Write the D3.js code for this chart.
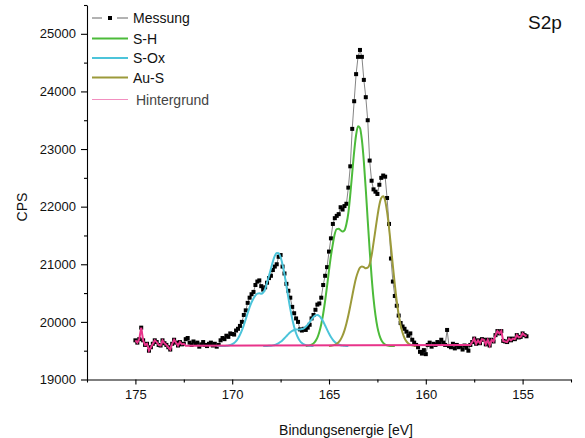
<!DOCTYPE html>
<html>
<head>
<meta charset="utf-8">
<script src="https://cdn.jsdelivr.net/npm/d3@7"></script>
<style>
  body { margin: 0; background: #fff; }
  svg { display: block; }
  text { font-family: "Liberation Sans", Arial, Helvetica, sans-serif; }
</style>
</head>
<body>
<svg id="chart" width="585" height="438"></svg>
<script>
// Energy grid step of every series (eV)
const step = 0.1;

// Messung, 175.0 eV down to 154.8 eV
const messungStart = 175.0;
const messung = [
  19680,19640,19700,19900,19680,19600,19620,19500,19560,19620, // 175.0
  19680,19650,19600,19590,19680,19630,19600,19560,19520,19620, // 174.0
  19690,19640,19590,19650,19610,19620,19700,19720,19640,19600, // 173.0
  19660,19620,19640,19570,19610,19650,19600,19580,19620,19640, // 172.0
  19590,19620,19570,19600,19680,19720,19700,19760,19740,19800, // 171.0
  19790,19780,19850,19880,19930,20000,20120,20200,20330,20420, // 170.0
  20480,20520,20640,20700,20720,20620,20560,20600,20680,20760, // 169.0
  20800,20900,20960,21000,21130,21160,20960,20840,20660,20540, // 168.0
  20420,20260,20150,20060,20000,19870,19850,19880,19860,19900, // 167.0
  19950,20060,20120,20210,20300,20320,20420,20640,20800,20950, // 166.0
  21220,21450,21700,21800,21840,21870,21990,21950,22010,22050, // 165.0
  22330,22700,23350,23830,24300,24600,24720,24600,24200,23900, // 164.0
  23500,22800,22450,22300,22260,22220,22380,22500,22540,22520, // 163.0
  22150,21700,21100,20700,20450,20280,20110,19980,19920,19880, // 162.0
  19830,19760,19800,19690,19640,19600,19560,19480,19450,19510, // 161.0
  19440,19600,19640,19570,19620,19600,19650,19630,19690,19640, // 160.0
  19600,19860,19580,19560,19620,19540,19600,19560,19580,19520, // 159.0
  19590,19550,19500,19600,19650,19710,19620,19680,19630,19700, // 158.0
  19690,19610,19690,19590,19690,19660,19770,19840,19800,19840, // 157.0
  19670,19660,19650,19710,19680,19710,19700,19770,19730,19740, // 156.0
  19800,19770,19750                                            // 155.0
];

// S-H component, 166.2 eV down to 161.6 eV
const shStart = 166.2;
const sh = [
  19582,19585,19592,19604,19627,19667,19727,19824,19958,20141,
  20367,20622,20892,21145,21355,21530,21610,21615,21590,21570,
  21590,21700,21893,22213,22587,22956,23244,23394,23366,23153,
  22782,22297,21765,21247,20786,20404,20117,19909,19772,19686,
  19635,19607,19593,19586,19582,19581,19580
];

// S-Ox components: main doublet 170.8 → 165.8 eV, minor doublet 168.4 → 164.0 eV
const sOxAStart = 170.8;
const sOxA = [
  19580,19580,19581,19581,19583,19585,19590,19598,19612,19634,
  19667,19713,19775,19853,19945,20048,20153,20254,20341,20407,
  20460,20490,20495,20490,20510,20570,20684,20797,20924,21046,
  21145,21197,21191,21121,20995,20824,20625,20421,20225,20054,
  19913,19803,19724,19668,19632,19609,19596,19588,19584,19582,
  19581
];
const sOxBStart = 168.4;
const sOxB = [
  19580,19581,19582,19584,19587,19592,19600,19613,19630,19654,
  19683,19716,19752,19788,19819,19844,19860,19868,19870,19870,
  19875,19888,19914,19951,19996,20044,20085,20112,20119,20102,
  20062,20006,19937,19866,19798,19738,19689,19652,19625,19607,
  19595,19588,19584,19582,19581
];

// Au-S component, 165.0 eV down to 160.5 eV
const ausStart = 165.0;
const aus = [
  19583,19586,19592,19602,19620,19650,19695,19761,19852,19971,
  20114,20278,20450,20618,20765,20870,20940,20960,20950,20930,
  20940,21000,21150,21370,21600,21830,22030,22150,22180,22103,
  21909,21635,21310,20971,20647,20361,20125,19942,19811,19720,
  19661,19624,19603,19592,19586,19583
];

// Hintergrund: follows the measurement outside these limits, straight line between anchors
const bgLimits = [172.5, 157.7];
const bgAnchorE = [172.4, 157.8];
const bgAnchorV = [19585, 19600];

// Axis ticks
const xTicks = [175, 170, 165, 160, 155];
const xMinor = [177.5, 172.5, 167.5, 162.5, 157.5, 152.5];
const yTicks = [19000, 20000, 21000, 22000, 23000, 24000, 25000];
const yMinor = [19500, 20500, 21500, 22500, 23500, 24500, 25500];

// Legend
const legendNames = ["Messung", "S-H", "S-Ox", "Au-S", "Hintergrund"];
const colors = {
  data: "#666666",
  sh: "#4cbb3a",
  sox: "#4cc4da",
  aus: "#9c9a3a",
  bg: "#e8338a"
};

const svg = d3.select("#chart");

const x = d3.scaleLinear().domain([177.5, 152.5]).range([87, 571]);
const y = d3.scaleLinear().domain([19000, 25500]).range([379.5, 5]);

function toPoints(start, vals) {
  return vals.map((v, i) => ({ e: +(start - i * step).toFixed(1), v }));
}

const pMess = toPoints(messungStart, messung);
const pSH = toPoints(shStart, sh);
const pSOxA = toPoints(sOxAStart, sOxA);
const pSOxB = toPoints(sOxBStart, sOxB);
const pAuS = toPoints(ausStart, aus);
const pBg = [
  ...pMess.filter(p => p.e >= bgLimits[0] - 1e-9),
  { e: bgAnchorE[0], v: bgAnchorV[0] },
  { e: bgAnchorE[1], v: bgAnchorV[1] },
  ...pMess.filter(p => p.e <= bgLimits[1] + 1e-9)
];

const lineLin = d3.line().x(d => x(d.e)).y(d => y(d.v));
const lineSmooth = d3.line().x(d => x(d.e)).y(d => y(d.v)).curve(d3.curveMonotoneX);

// Axes
svg.append("g").attr("transform", "translate(0,379.5)")
  .call(d3.axisBottom(x).tickValues(xTicks).tickSize(5).tickSizeOuter(0).tickPadding(5).tickFormat(d3.format("d")));
svg.append("g").attr("transform", "translate(0,379.5)")
  .call(d3.axisBottom(x).tickValues(xMinor).tickSize(3).tickSizeOuter(0).tickFormat(""))
  .select(".domain").remove();

svg.append("g").attr("transform", "translate(87,0)")
  .call(d3.axisLeft(y).tickValues(yTicks).tickSize(6).tickSizeOuter(0).tickPadding(5).tickFormat(d3.format("d")));
svg.append("g").attr("transform", "translate(87,0)")
  .call(d3.axisLeft(y).tickValues(yMinor).tickSize(3).tickSizeOuter(0).tickFormat(""))
  .select(".domain").remove();

svg.selectAll(".domain, .tick line").attr("stroke", "#000").attr("stroke-width", 1.1);
svg.selectAll(".tick text").attr("font-size", 13).attr("fill", "#111")
  .attr("font-family", "'Liberation Sans', Arial, sans-serif");

// Axis titles
svg.append("text").attr("x", 346).attr("y", 435).attr("text-anchor", "middle")
  .attr("font-size", 14).attr("fill", "#111").text("Bindungsenergie [eV]");
svg.append("text").attr("transform", "translate(27,207) rotate(-90)").attr("text-anchor", "middle")
  .attr("font-size", 14).attr("fill", "#111").text("CPS");

// Panel title
svg.append("text").attr("x", 528).attr("y", 29).attr("font-size", 19).attr("fill", "#111").text("S2p");

// Messung
svg.append("path").datum(pMess).attr("d", lineLin)
  .attr("fill", "none").attr("stroke", colors.data).attr("stroke-width", 0.8);
svg.append("g").selectAll("rect").data(pMess).join("rect")
  .attr("x", d => x(d.e) - 2).attr("y", d => y(d.v) - 2)
  .attr("width", 4).attr("height", 4).attr("fill", "#000");

// Fit components
svg.append("path").datum(pSH).attr("d", lineSmooth)
  .attr("fill", "none").attr("stroke", colors.sh).attr("stroke-width", 2);
[pSOxA, pSOxB].forEach(p => {
  svg.append("path").datum(p).attr("d", lineSmooth)
    .attr("fill", "none").attr("stroke", colors.sox).attr("stroke-width", 2);
});
svg.append("path").datum(pAuS).attr("d", lineSmooth)
  .attr("fill", "none").attr("stroke", colors.aus).attr("stroke-width", 2);

// Hintergrund
svg.append("path").datum(pBg).attr("d", lineLin)
  .attr("fill", "none").attr("stroke", colors.bg).attr("stroke-width", 2);

// Legend
const lg = svg.append("g");
const rowY = [18, 38.5, 58, 77.5, 99.5];
const lx0 = 92, lx1 = 128, tx = 133;
// Messung sample: dashes around a square
lg.append("line").attr("x1", lx0).attr("x2", 102).attr("y1", rowY[0]).attr("y2", rowY[0])
  .attr("stroke", colors.data).attr("stroke-width", 1);
lg.append("line").attr("x1", 117).attr("x2", lx1).attr("y1", rowY[0]).attr("y2", rowY[0])
  .attr("stroke", colors.data).attr("stroke-width", 1);
lg.append("rect").attr("x", 108).attr("y", rowY[0] - 2).attr("width", 4).attr("height", 4).attr("fill", "#000");
const sampleColors = [null, colors.sh, colors.sox, colors.aus, colors.bg];
const sampleWidths = [0, 2, 2, 2, 1];
for (let i = 1; i < 5; i++) {
  lg.append("line").attr("x1", lx0).attr("x2", lx1).attr("y1", rowY[i]).attr("y2", rowY[i])
    .attr("stroke", sampleColors[i]).attr("stroke-width", sampleWidths[i])
    .attr("stroke-opacity", i === 4 ? 0.55 : 1);
}
legendNames.forEach((n, i) => {
  lg.append("text").attr("x", i === 4 ? 136 : tx).attr("y", rowY[i]).attr("dy", "0.36em")
    .attr("font-size", 14).attr("fill", i === 4 ? "#444" : "#111").text(n);
});
</script>
</body>
</html>
